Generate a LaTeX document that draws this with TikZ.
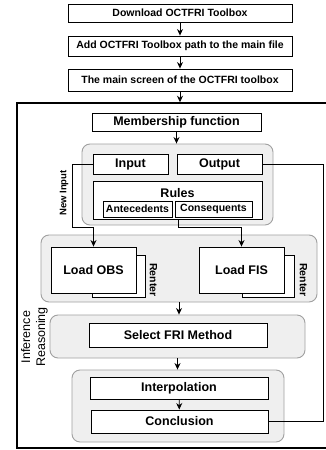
\documentclass[tikz,border=0pt]{standalone}
\usepackage{fontspec}
\setmainfont{Liberation Sans}
\usetikzlibrary{arrows.meta}
\definecolor{grpfill}{HTML}{EFEFEF}
\definecolor{grpline}{HTML}{A0A0A0}
\tikzset{
  box/.style={draw, line width=0.9pt, fill=white, inner sep=0pt, font=\bfseries\fontsize{10.5}{12}\selectfont},
  bigbox/.style={box, font=\bfseries\fontsize{12.5}{14}\selectfont},
  grp/.style={draw=grpline, fill=grpfill, rounded corners=8pt, line width=0.9pt, inner sep=0pt},
  arr/.style={-{Stealth[length=6.5pt,width=6pt]}, line width=0.8pt},
  conn/.style={line width=0.8pt},
  smalltxt/.style={font=\bfseries\fontsize{10.5}{12}\selectfont, inner sep=0pt}
}
\begin{document}
\begin{tikzpicture}[x=1pt,y=-1pt]
\useasboundingbox (0,0) rectangle (326,450);
% outer frame
\node[draw, line width=1.5pt, minimum width=318pt, minimum height=345pt, inner sep=0pt] (frame) at (176,275.5) {};
% top boxes
\node[box, minimum width=224pt, minimum height=18pt] (b1) at (180,13) {Download OCTFRI Toolbox};
\node[box, minimum width=224pt, minimum height=20pt] (b2) at (180,46) {Add OCTFRI Toolbox path to the main file};
\node[box, minimum width=224pt, minimum height=22pt] (b3) at (180,80) {The main screen of the OCTFRI toolbox};
\draw[arr] (b1) -- (b2);
\draw[arr] (b2) -- (b3);
\draw[arr] (b3.south) -- (b3.south |- frame.north);
% membership
\node[bigbox, minimum width=169pt, minimum height=18pt] (mf) at (176.5,122) {Membership function};
% group 1
\node[grp, minimum width=191pt, minimum height=81pt] (g1) at (177.5,184.5) {};
\draw[arr] (mf.south) -- (mf.south |- g1.north);
\node[bigbox, minimum width=75pt, minimum height=20pt] (input) at (130.5,164) {Input};
\node[bigbox, minimum width=85pt, minimum height=20pt] (output) at (219.5,164) {Output};
\node[box, minimum width=169pt, minimum height=38pt] (rules) at (177.5,200) {};
\node[font=\bfseries\fontsize{12.5}{14}\selectfont, inner sep=0pt] (rulestxt) at (177.5,193) {Rules};
\node[box, minimum width=69pt, minimum height=16pt] (ante) at (137.5,209) {Antecedents};
\node[box, minimum width=77pt, minimum height=16pt] (cons) at (213.5,209) {Consequents};
% group 2
\node[grp, minimum width=276pt, minimum height=67pt] (g2) at (179,268.5) {};
\node[box, minimum width=53pt, minimum height=42pt] (obsb) at (118.5,276) {};
\node[bigbox, minimum width=85pt, minimum height=46pt] (obsf) at (93.5,270) {Load OBS};
\node[box, minimum width=52pt, minimum height=42pt] (fisb) at (268,276) {};
\node[bigbox, minimum width=85pt, minimum height=46pt] (fisf) at (241.5,270) {Load FIS};
\node[smalltxt, rotate=-90] (r1) at (153.5,280) {Renter};
\node[smalltxt, rotate=-90] (r2) at (303.5,280) {Renter};
% new input connector
\coordinate (ni) at (72,227);
\draw[arr] (input.west) -| (ni) -| (obsf.north);
\node[smalltxt, font=\bfseries\fontsize{9.5}{11}\selectfont, rotate=90] (nitxt) at (64,193) {New Input};
% rules to FIS
\coordinate (rf) at (178,227);
\draw[arr] (rules.south -| rf) -- (rf) -| (fisf.north);
% select group
\node[grp, minimum width=255pt, minimum height=43pt] (gsel) at (177.5,336.5) {};
\node[bigbox, minimum width=178pt, minimum height=24pt] (sel) at (178,335) {Select FRI Method};
\draw[arr] (g2.south) -- (g2.south |- gsel.north);
% group 3
\node[grp, minimum width=212pt, minimum height=72pt] (g3) at (178,406) {};
\draw[arr] (gsel.south) -- (gsel.south |- g3.north);
\node[bigbox, minimum width=178pt, minimum height=22pt] (interp) at (179,388) {Interpolation};
\node[bigbox, minimum width=177pt, minimum height=23pt] (concl) at (179.5,421.5) {Conclusion};
\draw[arr] (interp) -- (concl);
% feedback
\coordinate (fb) at (323,422);
\draw[conn] (concl.east) -- (concl.east -| fb) |- (output.east);
% inference reasoning
\node[rotate=90, align=center, font=\fontsize{12.5}{15}\selectfont, inner sep=0pt] (ir) at (34.5,337) {Inference\\Reasoning};
\end{tikzpicture}
\end{document}
